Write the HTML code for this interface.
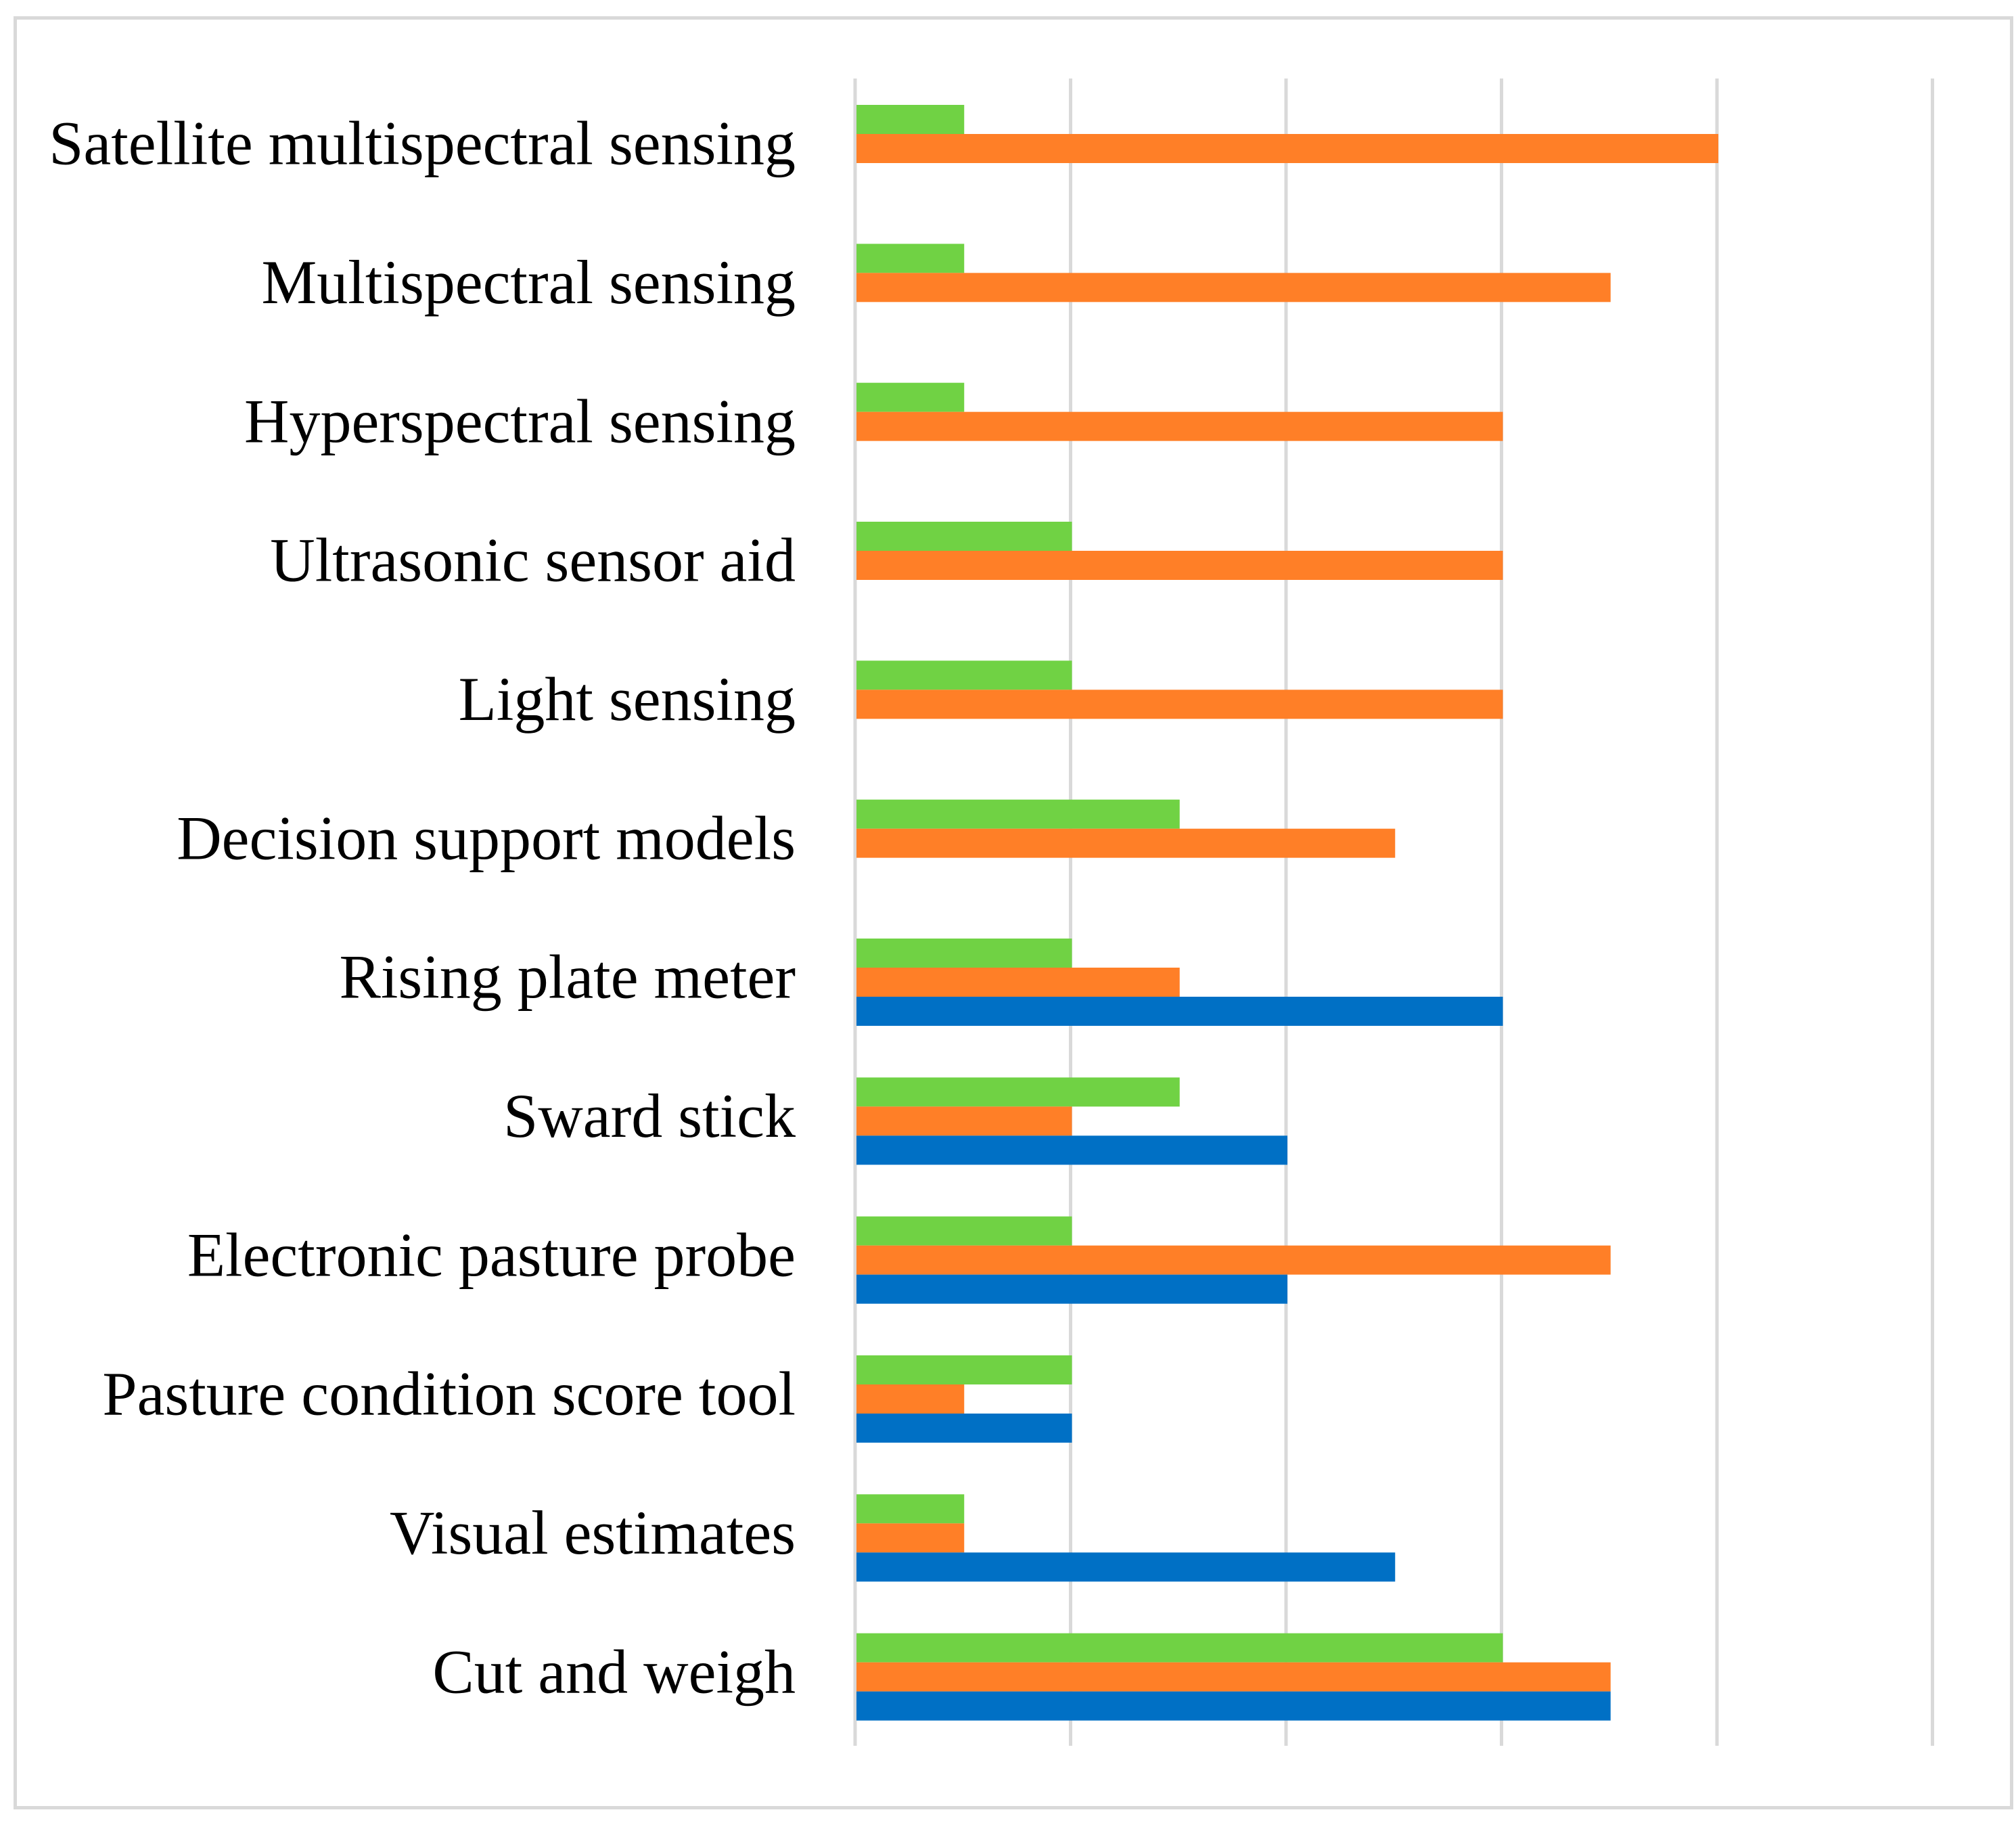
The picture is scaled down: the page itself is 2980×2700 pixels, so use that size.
<!DOCTYPE html>
<html><head><meta charset="utf-8"><style>
html,body{margin:0;padding:0;background:#fff;}
svg{display:block;}
text{font-family:"Liberation Serif",serif;font-size:92px;fill:#000;}
</style></head><body>
<svg id="chart" width="2980" height="2700" viewBox="0 0 2980 2700" xmlns="http://www.w3.org/2000/svg">
<rect x="22.5" y="26.5" width="2951" height="2645" fill="#fff" stroke="#d9d9d9" stroke-width="5"/>
<g id="grid"></g>
<g id="bars"></g>
<g id="labels"></g>
</svg>
<script>
const categories = ["Satellite multispectral sensing","Multispectral sensing","Hyperspectral sensing","Ultrasonic sensor aid","Light sensing","Decision support models","Rising plate meter","Sward stick","Electronic pasture probe","Pasture condition score tool","Visual estimates","Cut and weigh"];
const greenValues = [0.5,0.5,0.5,1,1,1.5,1,1.5,1,1,0.5,3];
const orangeValues = [4,3.5,3,3,3,2.5,1.5,1,3.5,0.5,0.5,3.5];
const blueValues = [0,0,0,0,0,0,3,2,2,1,2.5,3.5];
const gridTicks = [0,1,2,3,4,5];

const NS = "http://www.w3.org/2000/svg";
const x0 = 1266, unit = 318.5, plotTop = 116, plotBottom = 2580;
const band = (plotBottom - plotTop) / categories.length;
function xScale(v){ return x0 + v * unit; }
function yBand(i){ return plotTop + i * band; }

const grid = document.getElementById('grid');
gridTicks.forEach(t => {
  const l = document.createElementNS(NS,'line');
  
  
  l.setAttribute('x1', xScale(t) - 2); l.setAttribute('x2', xScale(t) - 2);
  l.setAttribute('y1', plotTop); l.setAttribute('y2', plotBottom);
  l.setAttribute('stroke','#d9d9d9'); l.setAttribute('stroke-width','5');
  grid.appendChild(l);
});

const bars = document.getElementById('bars');
const series = [[greenValues,'#70d244','green'],[orangeValues,'#ff7f27','orange'],[blueValues,'#0070c5','blue']];
const barH = 43, offset = 39;
categories.forEach((c,i) => {
  series.forEach((s,k) => {
    const v = s[0][i];
    if (v <= 0) return;
    const r = document.createElementNS(NS,'rect');
    
    
    r.setAttribute('x', xScale(0));
    r.setAttribute('y', yBand(i) + offset + k * barH);
    r.setAttribute('width', xScale(v) - xScale(0));
    r.setAttribute('height', barH);
    r.setAttribute('fill', s[1]);
    bars.appendChild(r);
  });
  const t = document.createElementNS(NS,'text');
  
  
  t.setAttribute('x', 1176);
  t.setAttribute('y', yBand(i) + band/2 + 24);
  t.setAttribute('text-anchor','end');
  t.textContent = c;
  document.getElementById('labels').appendChild(t);
});
</script>
</body></html>
